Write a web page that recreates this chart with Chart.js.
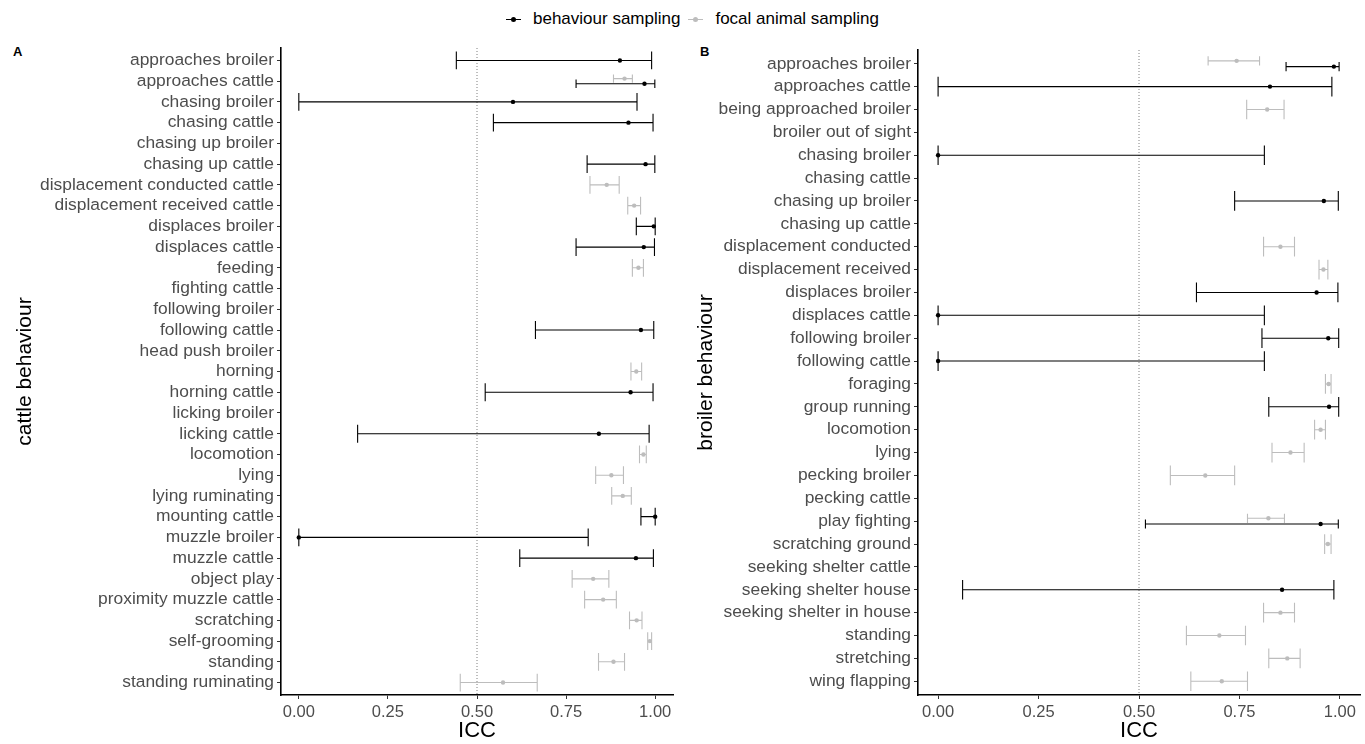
<!DOCTYPE html>
<html>
<head>
<meta charset="utf-8">
<script src="https://cdn.jsdelivr.net/npm/chart.js@4"></script>
<style>
  body { margin: 0; background: #fff; font-family: "Liberation Sans", Arial, sans-serif; }
  #wrap { position: relative; width: 1365px; height: 744px; overflow: hidden; }
  .panel { position: absolute; top: 0; height: 744px; }
  #panelA { left: 0; width: 680px; }
  #panelB { left: 690px; width: 675px; }
  .tag { position: absolute; top: 44px; font-weight: bold; font-size: 13px; }
  #legend { position: absolute; top: 9px; left: 506px; font-size: 17px; color: #000; white-space: nowrap; }
  .key { display: inline-block; position: relative; width: 15px; height: 16px; vertical-align: middle; margin-right: 12px; }
  .key::before { content: ""; position: absolute; left: 0; right: 0; top: 7px; height: 1px; background: var(--c); }
  .key::after { content: ""; position: absolute; left: 5px; top: 5px; width: 5px; height: 5px; border-radius: 50%; background: var(--c); }
  .item { display: inline-block; margin-right: 8px; }
</style>
</head>
<body>
<div id="wrap">
  <div id="legend">
    <span class="item"><span class="key" style="--c:#000"></span>behaviour sampling</span><span class="item"><span class="key" style="--c:#bdbdbd"></span>focal animal sampling</span>
  </div>
  <div class="tag" style="left:13px">A</div>
  <div class="tag" style="left:700px">B</div>
  <div class="panel" id="panelA"><canvas id="chartA"></canvas></div>
  <div class="panel" id="panelB"><canvas id="chartB"></canvas></div>
</div>
<script>
// ---- panel A: cattle behaviour ----
const cattleLabels = [
  "approaches broiler", "approaches cattle", "chasing broiler", "chasing cattle",
  "chasing up broiler", "chasing up cattle", "displacement conducted cattle",
  "displacement received cattle", "displaces broiler", "displaces cattle", "feeding",
  "fighting cattle", "following broiler", "following cattle", "head push broiler",
  "horning", "horning cattle", "licking broiler", "licking cattle", "locomotion",
  "lying", "lying ruminating", "mounting cattle", "muzzle broiler", "muzzle cattle",
  "object play", "proximity muzzle cattle", "scratching", "self-grooming", "standing",
  "standing ruminating"
];
// behaviour sampling (null = not recorded)
const cattleBehIcc = [0.901, 0.970, 0.601, 0.925, null, 0.973, null, null, 0.996, 0.968, null,
  null, null, 0.960, null, null, 0.931, null, 0.842, null, null, null, 1.0, 0.0, 0.946,
  null, null, null, null, null, null];
const cattleBehLo = [0.442, 0.778, 0.0, 0.546, null, 0.809, null, null, 0.947, 0.778, null,
  null, null, 0.664, null, null, 0.523, null, 0.165, null, null, null, 0.960, 0.0, 0.620,
  null, null, null, null, null, null];
const cattleBehHi = [0.990, 0.999, 0.949, 0.994, null, 0.999, null, null, 1.0, 0.998, null,
  null, null, 0.996, null, null, 0.994, null, 0.983, null, null, null, 1.0, 0.812, 0.995,
  null, null, null, null, null, null];
// focal animal sampling
const cattleFocIcc = [null, 0.914, null, null, null, null, 0.864, 0.941, null, null, 0.953,
  null, null, null, null, 0.947, null, null, null, 0.967, 0.877, 0.909, null, null, null,
  0.826, 0.854, 0.948, 0.985, 0.883, 0.573];
const cattleFocLo = [null, 0.883, null, null, null, null, 0.817, 0.923, null, null, 0.936,
  null, null, null, null, 0.932, null, null, null, 0.956, 0.833, 0.878, null, null, null,
  0.767, 0.802, 0.928, 0.979, 0.841, 0.453];
const cattleFocHi = [null, 0.936, null, null, null, null, 0.899, 0.959, null, null, 0.967,
  null, null, null, null, 0.962, null, null, null, 0.975, 0.911, 0.933, null, null, null,
  0.870, 0.891, 0.963, 0.990, 0.914, 0.669];

// ---- panel B: broiler behaviour ----
const broilerLabels = [
  "approaches broiler", "approaches cattle", "being approached broiler", "broiler out of sight",
  "chasing broiler", "chasing cattle", "chasing up broiler", "chasing up cattle",
  "displacement conducted", "displacement received", "displaces broiler", "displaces cattle",
  "following broiler", "following cattle", "foraging", "group running", "locomotion", "lying",
  "pecking broiler", "pecking cattle", "play fighting", "scratching ground",
  "seeking shelter cattle", "seeking shelter house", "seeking shelter in house", "standing",
  "stretching", "wing flapping"
];
const broilerBehIcc = [0.985, 0.826, null, null, 0.0, null, 0.960, null, null, null, 0.942, 0.0,
  0.971, 0.0, null, 0.973, null, null, null, null, 0.952, null, null, 0.856, null, null, null, null];
const broilerBehLo = [0.866, 0.0, null, null, 0.0, null, 0.738, null, null, null, 0.643, 0.0,
  0.806, 0.0, null, 0.823, null, null, null, null, 0.516, null, null, 0.061, null, null, null, null];
const broilerBehHi = [0.998, 0.980, null, null, 0.812, null, 0.996, null, null, null, 0.995, 0.812,
  0.997, 0.812, null, 0.997, null, null, null, null, 0.996, null, null, 0.985, null, null, null, null];
const broilerFocIcc = [0.743, null, 0.819, null, null, null, null, null, 0.852, 0.959, null, null,
  null, null, 0.972, null, 0.952, 0.877, 0.665, null, 0.822, 0.970, null, null, 0.852, 0.700, 0.869, 0.706];
const broilerFocLo = [0.672, null, 0.768, null, null, null, null, null, 0.810, 0.948, null, null,
  null, null, 0.964, null, 0.937, 0.831, 0.578, null, 0.770, 0.962, null, null, 0.810, 0.618, 0.823, 0.629];
const broilerFocHi = [0.800, null, 0.861, null, null, null, null, null, 0.887, 0.970, null, null,
  null, null, 0.978, null, 0.964, 0.911, 0.738, null, 0.862, 0.978, null, null, 0.887, 0.765, 0.901, 0.770];

const xTicks = [0, 0.25, 0.5, 0.75, 1];

const BLACK = "#000000";
const GREY = "#bdbdbd";
const GAP = { x: null, y: null };

// row position, nudged apart when both methods are present
function rowY(i, other, dir) {
  return other[i] == null ? i : i + dir * 0.125;
}

function whiskers(icc, lo, hi, other, dir) {
  const pts = [];
  icc.forEach((v, i) => {
    if (v == null) return;
    const y = rowY(i, other, dir);
    const c = other[i] == null ? 0.43 : 0.2;
    pts.push({ x: lo[i], y }, { x: hi[i], y }, GAP);
    pts.push({ x: lo[i], y: y - c }, { x: lo[i], y: y + c }, GAP);
    pts.push({ x: hi[i], y: y - c }, { x: hi[i], y: y + c }, GAP);
  });
  return pts;
}

function centres(icc, other, dir) {
  const pts = [];
  icc.forEach((v, i) => {
    if (v != null) pts.push({ x: v, y: rowY(i, other, dir) });
  });
  return pts;
}

const refLine = {
  id: "refLine",
  beforeDatasetsDraw(chart) {
    const { ctx, chartArea, scales } = chart;
    const x = scales.x.getPixelForValue(0.5);
    ctx.save();
    ctx.strokeStyle = "#7f7f7f";
    ctx.lineWidth = 1;
    ctx.setLineDash([1, 2]);
    ctx.beginPath();
    ctx.moveTo(x, chartArea.top);
    ctx.lineTo(x, chartArea.bottom);
    ctx.stroke();
    ctx.restore();
  }
};

function makeChart(id, labels, beh, foc, yTitle, yWidth, pad, titlePad) {
  const [bIcc, bLo, bHi] = beh;
  const [fIcc, fLo, fHi] = foc;
  const lineDs = (data, color) => ({
    type: "scatter", data, showLine: true, spanGaps: false,
    borderColor: color, borderWidth: 1.1, pointRadius: 0, pointHoverRadius: 0
  });
  const dotDs = (data, color) => ({
    type: "scatter", data, showLine: false,
    backgroundColor: color, borderColor: color, pointRadius: 2.2, borderWidth: 0
  });
  return new Chart(document.getElementById(id), {
    type: "scatter",
    data: {
      datasets: [
        lineDs(whiskers(fIcc, fLo, fHi, bIcc, -1), GREY),
        dotDs(centres(fIcc, bIcc, -1), GREY),
        lineDs(whiskers(bIcc, bLo, bHi, fIcc, 1), BLACK),
        dotDs(centres(bIcc, fIcc, 1), BLACK)
      ]
    },
    options: {
      responsive: true,
      maintainAspectRatio: false,
      animation: false,
      layout: { padding: pad },
      plugins: { legend: { display: false }, tooltip: { enabled: false } },
      scales: {
        x: {
          type: "linear", min: -0.05, max: 1.05,
          afterBuildTicks: s => { s.ticks = xTicks.map(v => ({ value: v })); },
          afterFit: s => { s.height = 49; },
          grid: { drawOnChartArea: false, drawTicks: true, tickLength: 4, color: "#333", lineWidth: 1 },
          border: { display: true, color: "#000", width: 1.6 },
          ticks: {
            color: "#4d4d4d", padding: 4, maxRotation: 0,
            font: { family: "Liberation Sans", size: 16.5 },
            callback: v => v.toFixed(2)
          },
          title: {
            display: true, text: "ICC", color: "#000",
            font: { family: "Liberation Sans", size: 22 }, padding: { top: 0, bottom: 0 }
          }
        },
        y: {
          type: "linear", reverse: true, min: -0.6, max: labels.length - 0.4,
          afterBuildTicks: s => { s.ticks = labels.map((_, i) => ({ value: i })); },
          afterFit: s => { s.width = yWidth; },
          grid: { drawOnChartArea: false, drawTicks: true, tickLength: 4, color: "#333", lineWidth: 1 },
          border: { display: true, color: "#000", width: 1.6 },
          ticks: {
            color: "#4d4d4d", padding: 3, autoSkip: false,
            font: { family: "Liberation Sans", size: 17.4 },
            callback: v => labels[v]
          },
          title: {
            display: true, text: yTitle, color: "#000",
            font: { family: "Liberation Sans", size: 21 }, padding: { top: titlePad, bottom: 0 }
          }
        }
      }
    },
    plugins: [refLine]
  });
}

makeChart("chartA", cattleLabels,
  [cattleBehIcc, cattleBehLo, cattleBehHi], [cattleFocIcc, cattleFocLo, cattleFocHi],
  "cattle behaviour", 281, { top: 48, right: 7, left: 0, bottom: 0 }, 13);

makeChart("chartB", broilerLabels,
  [broilerBehIcc, broilerBehLo, broilerBehHi], [broilerFocIcc, broilerFocLo, broilerFocHi],
  "broiler behaviour", 228, { top: 50, right: 5, left: 0, bottom: 0 }, 4);
</script>
</body>
</html>
